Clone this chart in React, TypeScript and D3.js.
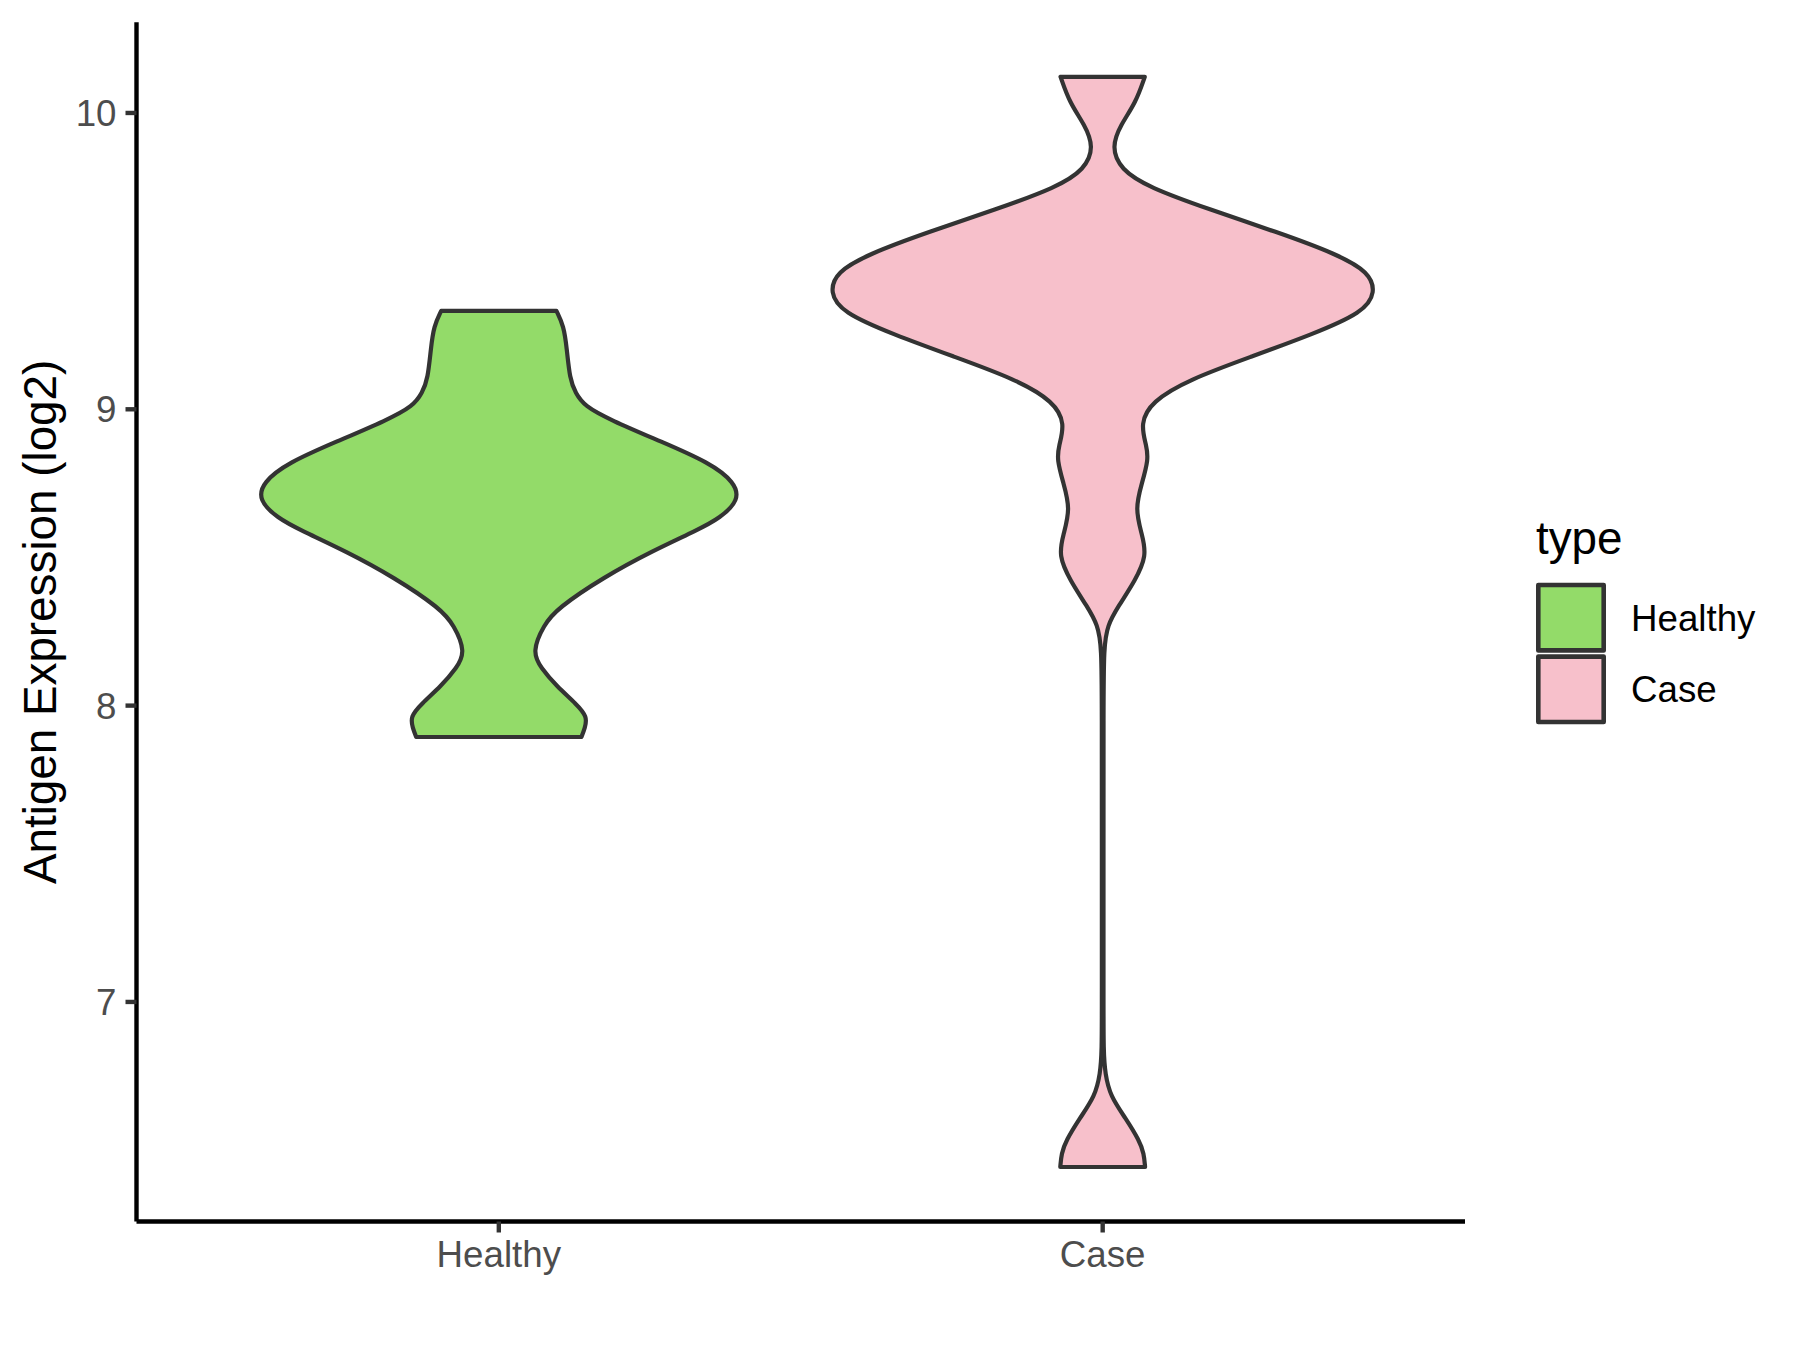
import React from "react";
import * as d3 from "d3";

// ---- Data ----
const categories = ["Healthy", "Case"];
const fills = ["#93DB69", "#F7C0CB"];

// Healthy violin profile: expression level (log2) and relative density half-width
const healthyLevels = [
  9.332, 9.281, 9.207, 9.103, 9.055, 9.011, 8.964, 8.89, 8.82, 8.754, 8.694,
  8.633, 8.592, 8.522, 8.433, 8.328, 8.272, 8.181, 8.127, 8.066, 8.005, 7.962, 7.925, 7.894,
];
const healthyDensity = [
  0.212, 0.239, 0.25, 0.261, 0.282, 0.315, 0.41, 0.6, 0.775, 0.868, 0.885,
  0.815, 0.73, 0.565, 0.385, 0.215, 0.165, 0.122, 0.155, 0.212, 0.286, 0.326, 0.317, 0.304,
];

// Case violin profile
const caseLevels = [
  10.122, 10.035, 9.96, 9.885, 9.809, 9.749, 9.674, 9.599, 9.523, 9.463, 9.395,
  9.327, 9.252, 9.177, 9.101, 9.026, 8.951, 8.875, 8.83, 8.755, 8.664, 8.574,
  8.506, 8.424, 8.333, 8.272, 8.198, 8.0, 7.5, 7.0, 6.833, 6.758, 6.682, 6.607,
  6.532, 6.488, 6.443,
];
const caseDensity = [
  0.155, 0.122, 0.066, 0.032, 0.066, 0.169, 0.394, 0.639, 0.864, 0.98, 1.005,
  0.96, 0.769, 0.545, 0.319, 0.179, 0.138, 0.162, 0.168, 0.146, 0.118, 0.146,
  0.162, 0.121, 0.056, 0.018, 0.004, 0.003, 0.003, 0.003, 0.003, 0.009, 0.028,
  0.085, 0.135, 0.152, 0.156,
];

const yTicks = [7, 8, 9, 10];
const yTitle = "Antigen Expression (log2)";
const legendTitle = "type";

// ---- Layout ----
const W = 1800;
const H = 1350;
const panel = { left: 136.5, right: 1465, top: 22.3, bottom: 1221.5 };
const FONT = "'Liberation Sans', Arial, Helvetica, sans-serif";
const OUTLINE = "#333333";

export default function App() {
  const levelsList = [healthyLevels, caseLevels];
  const densList = [healthyDensity, caseDensity];
  const all = [...healthyLevels, ...caseLevels];
  const mn = d3.min(all) as number;
  const mx = d3.max(all) as number;
  const pad = (mx - mn) * 0.05;

  const y = d3
    .scaleLinear()
    .domain([mn - pad, mx + pad])
    .range([panel.bottom, panel.top]);

  const x = d3
    .scalePoint<string>()
    .domain(categories)
    .range([panel.left, panel.right])
    .padding(0.6);

  const step = x.step();
  const maxHalf = 0.45 * step;

  const violins = categories.map((cat, i) => {
    const cx = x(cat) as number;
    const pts = levelsList[i].map((v, j) => ({ v, d: densList[i][j] }));
    const area = d3
      .area<{ v: number; d: number }>()
      .y((p) => y(p.v))
      .x0((p) => cx - p.d * maxHalf)
      .x1((p) => cx + p.d * maxHalf)
      .curve(d3.curveBasis);
    return { cat, path: area(pts) as string, fill: fills[i] };
  });

  const tickLen = 11;
  const axisW = 4.4;

  const legendX = 1538.3;
  const keyTop = 585;
  const keySize = 65.4;
  const keyStep = 71.6;

  return (
    <svg
      width={W}
      height={H}
      viewBox={`0 0 ${W} ${H}`}
      style={{ position: "absolute", left: 0, top: 0, background: "#ffffff" }}
      fontFamily={FONT}
    >
      <rect x={0} y={0} width={W} height={H} fill="#ffffff" />

      {violins.map((vl) => (
        <path
          key={vl.cat}
          d={vl.path}
          fill={vl.fill}
          stroke={OUTLINE}
          strokeWidth={4.2}
          strokeLinejoin="round"
        />
      ))}

      {/* Axis lines */}
      <line
        x1={panel.left}
        x2={panel.left}
        y1={panel.top}
        y2={panel.bottom}
        stroke="#000"
        strokeWidth={axisW}
      />
      <line
        x1={panel.left}
        x2={panel.right}
        y1={panel.bottom}
        y2={panel.bottom}
        stroke="#000"
        strokeWidth={axisW}
      />

      {/* Y ticks */}
      {yTicks.map((t) => (
        <g key={t}>
          <line
            x1={panel.left - tickLen}
            x2={panel.left}
            y1={y(t)}
            y2={y(t)}
            stroke={OUTLINE}
            strokeWidth={axisW}
          />
          <text
            x={panel.left - tickLen - 9}
            y={y(t) + 13}
            textAnchor="end"
            fontSize={36.7}
            fill="#4D4D4D"
          >
            {t}
          </text>
        </g>
      ))}

      {/* X ticks */}
      {categories.map((c) => (
        <g key={c}>
          <line
            x1={x(c)}
            x2={x(c)}
            y1={panel.bottom}
            y2={panel.bottom + tickLen}
            stroke={OUTLINE}
            strokeWidth={axisW}
          />
          <text
            x={x(c)}
            y={1267}
            textAnchor="middle"
            fontSize={36.7}
            fill="#4D4D4D"
          >
            {c}
          </text>
        </g>
      ))}

      {/* Y title */}
      <text
        transform={`translate(56, ${(panel.top + panel.bottom) / 2}) rotate(-90)`}
        textAnchor="middle"
        fontSize={45.8}
        fill="#000"
      >
        {yTitle}
      </text>

      {/* Legend */}
      <text x={1536} y={554} fontSize={45.8} fill="#000">
        {legendTitle}
      </text>
      {categories.map((c, i) => (
        <g key={c}>
          <rect
            x={legendX}
            y={keyTop + i * keyStep}
            width={keySize}
            height={keySize}
            fill={fills[i]}
            stroke={OUTLINE}
            strokeWidth={4.6}
            strokeLinejoin="round"
          />
          <text
            x={1631}
            y={keyTop + i * keyStep + keySize / 2 + 13}
            fontSize={36.7}
            fill="#000"
          >
            {c}
          </text>
        </g>
      ))}
    </svg>
  );
}
